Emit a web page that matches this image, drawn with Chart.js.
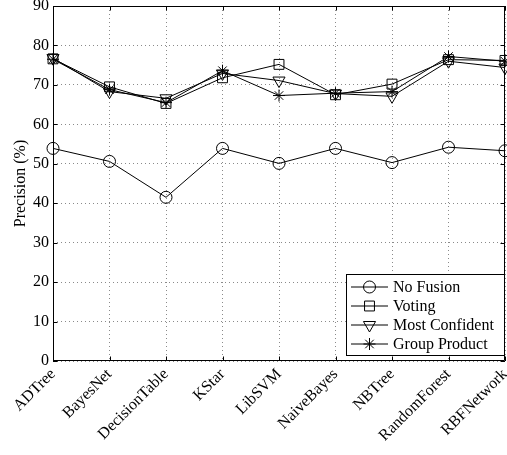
<!DOCTYPE html>
<html>
<head>
<meta charset="utf-8">
<script src="https://cdn.jsdelivr.net/npm/chart.js@4/dist/chart.umd.min.js"></script>
<style>
  html, body { margin: 0; padding: 0; background: #fff; }
  canvas { display: block; }
</style>
</head>
<body>
<canvas id="precision" width="507" height="455"></canvas>
<script>
// classifiers along the x axis
const classifiers = ['ADTree', 'BayesNet', 'DecisionTable', 'KStar', 'LibSVM', 'NaiveBayes', 'NBTree', 'RandomForest', 'RBFNetwork']

// precision (%) per fusion method
const noFusion      = [53.9, 50.6, 41.5, 53.9, 50.1, 53.9, 50.3, 54.2, 53.3]
const voting        = [76.6, 69.5, 65.3, 71.8, 75.2, 67.5, 70.2, 76.4, 76.2]
const mostConfident = [76.8, 68.3, 66.6, 72.9, 71.1, 67.8, 67.1, 76.0, 74.4]
const groupProduct  = [76.5, 68.8, 65.5, 73.6, 67.3, 67.9, 68.3, 77.2, 76.0]

const yTicks = [0, 10, 20, 30, 40, 50, 60, 70, 80, 90]

const serif = "'Liberation Serif', 'Times New Roman', serif"

function series(label, data, pointStyle, radius, rotation) {
    return {
        label: label,
        data: data,
        borderColor: 'black',
        borderWidth: 1,
        backgroundColor: 'transparent',
        pointStyle: pointStyle,
        pointRadius: radius,
        pointRotation: rotation || 0,
        pointBorderColor: 'black',
        pointBackgroundColor: 'transparent',
        pointBorderWidth: 1,
        tension: 0,
        clip: false
    }
}

const datasets = [
    series('No Fusion', noFusion, 'circle', 6),
    series('Voting', voting, 'rect', 7),
    series('Most Confident', mostConfident, 'triangle', 7, 180),
    series('Group Product', groupProduct, 'star', 6)
]

// axes box, inward tick marks and the legend inside the plot
const matlabFrame = {
    id: 'matlabFrame',
    beforeDatasetsDraw(chart) {
        const ctx = chart.ctx
        const a = chart.chartArea
        const x = chart.scales.x
        const y = chart.scales.y
        ctx.save()
        ctx.strokeStyle = 'black'
        ctx.lineWidth = 1
        ctx.beginPath()
        ctx.rect(a.left + 0.5, a.top + 0.5, a.right - a.left - 1, a.bottom - a.top - 1)
        for (const v of yTicks) {
            const py = Math.round(y.getPixelForValue(v)) + 0.5
            ctx.moveTo(a.left, py); ctx.lineTo(a.left + 4.5, py)
            ctx.moveTo(a.right, py); ctx.lineTo(a.right - 4.5, py)
        }
        for (let i = 0; i < classifiers.length; i++) {
            const px = Math.round(x.getPixelForValue(i)) + 0.5
            ctx.moveTo(px, a.bottom); ctx.lineTo(px, a.bottom - 4.5)
            ctx.moveTo(px, a.top); ctx.lineTo(px, a.top + 4.5)
        }
        ctx.stroke()
        ctx.restore()
    },
    afterDraw(chart) {
        const ctx = chart.ctx
        const a = chart.chartArea
        const boxW = 159, boxH = 82
        const bx = a.right - boxW, by = a.bottom - boxH - 5
        ctx.save()
        ctx.fillStyle = 'white'
        ctx.fillRect(bx, by, boxW, boxH)
        ctx.strokeStyle = 'black'
        ctx.lineWidth = 1
        ctx.strokeRect(bx + 0.5, by + 0.5, boxW - 1, boxH - 1)
        ctx.font = '16px ' + serif
        ctx.textBaseline = 'middle'
        chart.data.datasets.forEach((ds, i) => {
            const cy = by + 13 + i * 19
            ctx.beginPath()
            ctx.moveTo(bx + 5, cy)
            ctx.lineTo(bx + 42, cy)
            ctx.strokeStyle = 'black'
            ctx.stroke()
            // hollow markers, as on the lines
            ctx.fillStyle = 'rgba(0,0,0,0)'
            Chart.helpers.drawPoint(ctx, {
                pointStyle: ds.pointStyle,
                radius: ds.pointRadius,
                rotation: ds.pointRotation,
                borderWidth: 1
            }, bx + 23.5, cy)
            ctx.fillStyle = 'black'
            ctx.fillText(ds.label, bx + 47, cy + 1)
        })
        ctx.restore()
    }
}

const config = {
    type: 'line',
    data: {
        labels: classifiers,
        datasets: datasets
    },
    options: {
        responsive: false,
        animation: false,
        layout: {
            autoPadding: false,
            padding: { top: 6, right: 2, left: 0, bottom: 0 }
        },
        plugins: {
            legend: { display: false },
            tooltip: { enabled: false }
        },
        scales: {
            x: {
                type: 'category',
                offset: false,
                grid: {
                    color: '#8a8a8a',
                    lineWidth: 1,
                    drawTicks: false
                },
                border: { display: false, dash: [1, 3] },
                ticks: {
                    color: 'black',
                    font: { family: serif, size: 16 },
                    minRotation: 45,
                    maxRotation: 45,
                    autoSkip: false,
                    padding: 4
                },
                afterFit(scale) {
                    scale.height = 94
                    scale.paddingLeft = 0
                    scale.paddingRight = 0
                }
            },
            y: {
                min: 0,
                max: 90,
                afterBuildTicks(scale) {
                    scale.ticks = yTicks.map(v => ({ value: v }))
                },
                grid: {
                    color: '#8a8a8a',
                    lineWidth: 1,
                    drawTicks: false
                },
                border: { display: false, dash: [1, 3] },
                ticks: {
                    color: 'black',
                    font: { family: serif, size: 16 },
                    padding: 4
                },
                title: {
                    display: true,
                    text: 'Precision (%)',
                    color: 'black',
                    font: { family: serif, size: 16 },
                    padding: { top: 11, bottom: 0 }
                },
                afterFit(scale) {
                    scale.width = 53
                    scale.paddingTop = 0
                    scale.paddingBottom = 0
                }
            }
        }
    },
    plugins: [matlabFrame]
}

var ctx = document.getElementById('precision')
var precisionChart = new Chart(ctx, config)
</script>
</body>
</html>
